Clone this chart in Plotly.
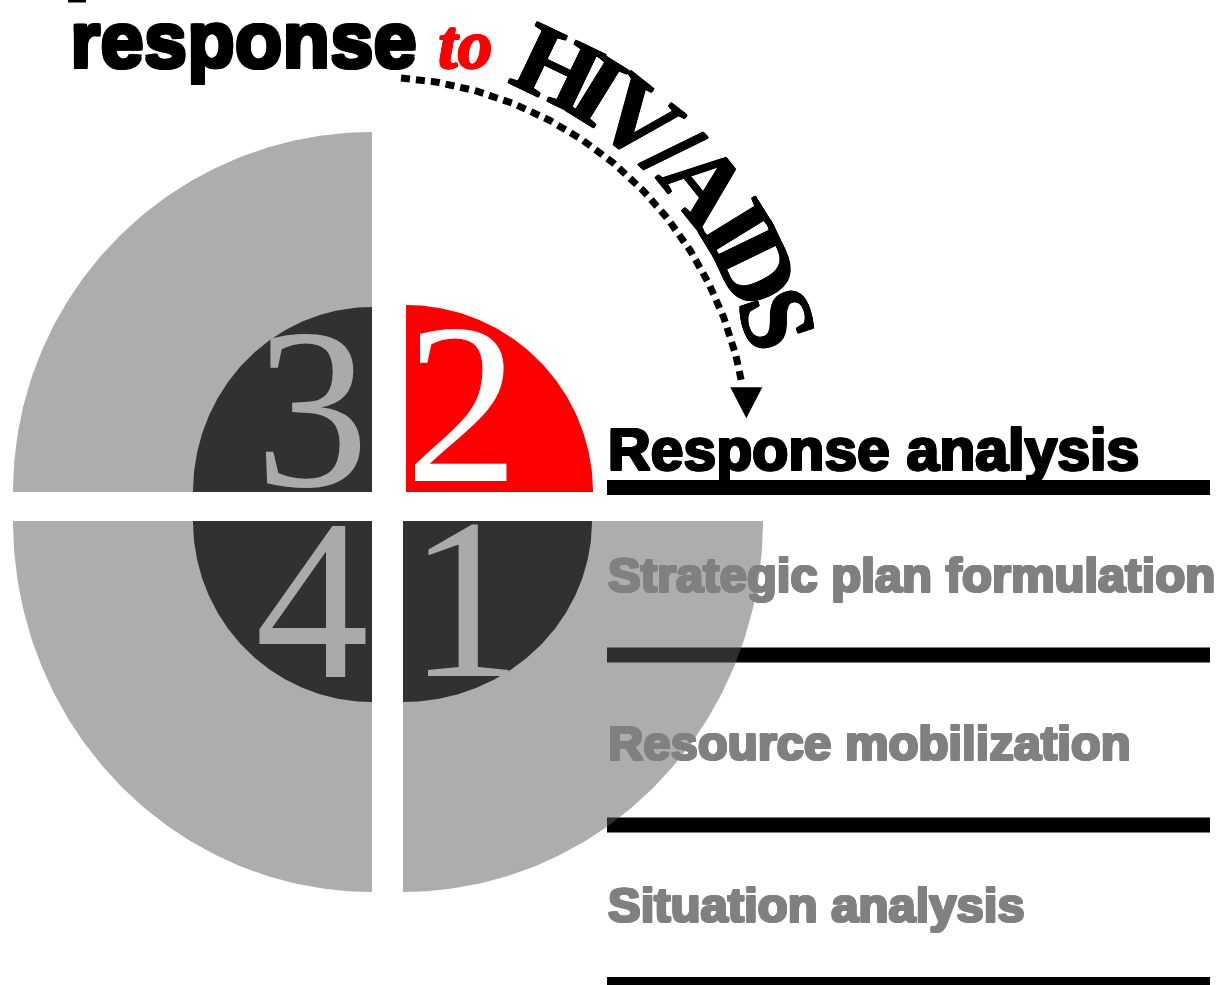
import numpy as np
import plotly.graph_objects as go

# ---------------- content ----------------
title_main = "response"
title_link = "to"
title_subject = list("HIV/AIDS")
stage_labels = ["Response analysis", "Strategic plan formulation",
                "Resource mobilization", "Situation analysis"]
stage_is_current = [True, False, False, False]
quadrant_numbers = ["1", "2", "3", "4"]
current_quadrant = "2"

# ---------------- layout / style ----------------
W, H = 1216, 985
GRAY_BIG = "rgba(92,92,92,0.5)"
DARK = "#313131"
RED = "#ff0000"
NUM_GRAY = "#aaaaaa"
LABEL_GRAY = "#808080"
HEAVY = "Liberation Sans"
HEAVY_K = 0.3465          # (ascent - descent) / 2 of the sans font
SERIF = "Liberation Serif"

# quadrant geometry: corner, direction, big radius, small radius, number centre
quad_geom = {
    "1": dict(cx=403, cy=521, sx=1, sy=1, R=(360, 371), r=(189, 181), num=(465, 599)),
    "2": dict(cx=406, cy=492, sx=1, sy=-1, R=None, r=(187, 187), num=(462, 404)),
    "3": dict(cx=372, cy=492, sx=-1, sy=-1, R=(359, 360), r=(179, 185), num=(312, 409)),
    "4": dict(cx=372, cy=521, sx=-1, sy=1, R=(359, 371), r=(179, 181), num=(312, 600)),
}
label_x0, label_x1 = 607, 1210
label_baselines = [470, 592, 760, 922]
label_sizes = [59, 49, 49, 49]
rule_y = [487.5, 655, 825, 984.5]

arc_c = (375, 450)
arc_R = 373
arc_deg = (86, 10)
letter_R = 424
letter_deg = [64.5, 58.3, 51.5, 45, 38.8, 31.6, 25.7, 18.1]


def heavy_shadow(color, d=1.3):
    offs = [(d, 0), (-d, 0), (0, d), (0, -d), (d, d), (-d, -d), (d, -d), (-d, d)]
    return ", ".join(f"{a}px {b}px 0 {color}" for a, b in offs)


def quarter(cx, cy, rx, ry, sx, sy, n=120):
    t = np.linspace(0, np.pi / 2, n)
    xs = [cx] + list(cx + sx * rx * np.cos(t)) + [cx]
    ys = [cy] + list(cy + sy * ry * np.sin(t)) + [cy]
    return xs, ys


fig = go.Figure()

# rules under the stage labels
for y in rule_y:
    fig.add_trace(go.Scatter(x=[label_x0, label_x1], y=[y, y], mode="lines",
                             line=dict(color="black", width=15), hoverinfo="skip"))

# big translucent gray quadrants
for q in quadrant_numbers:
    g = quad_geom[q]
    if g["R"] is None:
        continue
    xs, ys = quarter(g["cx"], g["cy"], g["R"][0], g["R"][1], g["sx"], g["sy"])
    fig.add_trace(go.Scatter(x=xs, y=ys, mode="lines", fill="toself",
                             fillcolor=GRAY_BIG, line=dict(width=0), hoverinfo="skip"))

# small inner quadrants
for q in quadrant_numbers:
    g = quad_geom[q]
    xs, ys = quarter(g["cx"], g["cy"], g["r"][0], g["r"][1], g["sx"], g["sy"])
    col = RED if q == current_quadrant else DARK
    fig.add_trace(go.Scatter(x=xs, y=ys, mode="lines", fill="toself",
                             fillcolor=col, line=dict(width=0), hoverinfo="skip"))

# dotted arrow arc
t = np.radians(np.linspace(arc_deg[0], arc_deg[1], 200))
ax = arc_c[0] + arc_R * np.cos(t)
ay = arc_c[1] - arc_R * np.sin(t)
fig.add_trace(go.Scatter(x=ax, y=ay, mode="lines",
                         line=dict(color="black", width=7, dash="9px,6px"),
                         hoverinfo="skip"))
ex, ey = ax[-1] + 4, ay[-1] + 2
fig.add_trace(go.Scatter(x=[ex - 16, ex + 16, ex, ex - 16], y=[ey, ey, ey + 31, ey],
                         mode="lines", fill="toself", fillcolor="black",
                         line=dict(width=0, color="black"), hoverinfo="skip"))

# small fragment at the very top-left
fig.add_trace(go.Scatter(x=[68, 86], y=[1, 1], mode="lines",
                         line=dict(color="black", width=3), hoverinfo="skip"))

ann = []


def text(x, y, s, size, color, family, xanchor="center", angle=0, weight="normal",
         style="normal", shadow="none"):
    ann.append(dict(x=x, y=y, xref="x", yref="y", text=s, showarrow=False,
                    xanchor=xanchor, yanchor="middle", textangle=angle,
                    font=dict(size=size, color=color, family=family, weight=weight,
                              style=style, shadow=shadow)))


# numbers
for q in quadrant_numbers:
    g = quad_geom[q]
    col = "white" if q == current_quadrant else NUM_GRAY
    text(g["num"][0], g["num"][1], q, 228, col, SERIF)

# title
text(68, 67 - HEAVY_K * 78, title_main, 78, "black", HEAVY, xanchor="left",
     weight="bold", shadow=heavy_shadow("black", 1.6))
text(436, 68 - 0.3375 * 70, title_link, 70, RED, SERIF, xanchor="left", weight="bold",
     style="italic", shadow=heavy_shadow(RED, 0.7))
for ch, d in zip(title_subject, letter_deg):
    r = np.radians(d)
    text(arc_c[0] + letter_R * np.cos(r), arc_c[1] - letter_R * np.sin(r), ch, 102,
         "black", SERIF, angle=90 - d, weight="bold", shadow=heavy_shadow("black", 0.8))

# stage labels
for lab, cur, b, s in zip(stage_labels, stage_is_current, label_baselines, label_sizes):
    col = "black" if cur else LABEL_GRAY
    text(label_x0 - 1, b - HEAVY_K * s, lab, s, col, HEAVY, xanchor="left",
         weight="bold", shadow=heavy_shadow(col, 1.2))

fig.update_layout(
    width=W, height=H, margin=dict(l=0, r=0, t=0, b=0),
    paper_bgcolor="white", plot_bgcolor="white", showlegend=False,
    hovermode=False, annotations=ann,
    xaxis=dict(range=[0, W], visible=False, fixedrange=True),
    yaxis=dict(range=[H, 0], visible=False, fixedrange=True),
)

fig.write_html("out.html", config={"displayModeBar": False},
               post_script="document.body.style.margin='0px';")
